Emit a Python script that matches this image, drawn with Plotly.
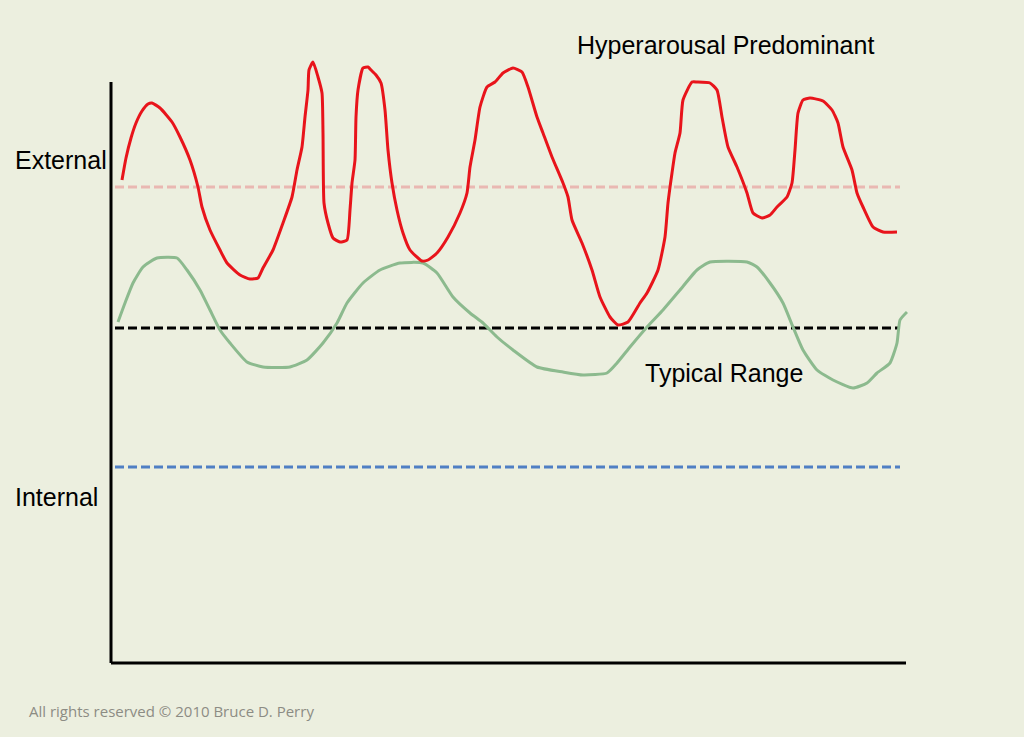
import plotly.graph_objects as go

# Time axis (arbitrary units) and arousal level readings
red_t = [11, 15, 20, 25, 31, 37, 41, 49, 61, 69, 79, 87, 91, 99, 109, 116, 129, 139, 147, 152,
         162, 172, 181, 186, 191, 194, 197, 198, 202, 207, 211, 212, 213, 217, 222, 229, 236, 239,
         241, 244, 245, 247, 252, 257, 260, 265, 270, 274, 277, 281, 286, 292, 299, 311, 317, 326,
         337, 349, 356, 359, 364, 369, 376, 384, 392, 402, 411, 417, 426, 432, 441, 452, 457, 461,
         471, 481, 489, 499, 507, 517, 529, 536, 547, 554, 557, 561, 564, 569, 572, 581, 586, 599,
         606, 611, 617, 626, 636, 642, 651, 659, 666, 676, 681, 684, 687, 692, 699, 712, 721, 727,
         732, 741, 746, 752, 762, 772, 786]
red_v = [483, 505, 525, 540, 552, 559, 560, 555, 541, 526, 503, 476, 456, 433, 413, 400, 388, 384,
         385, 395, 413, 440, 466, 493, 516, 546, 573, 593, 601, 586, 570, 530, 460, 440, 425, 421,
         423, 453, 480, 503, 546, 573, 595, 596, 593, 588, 580, 553, 513, 480, 453, 430, 413, 402,
         403, 410, 426, 450, 470, 496, 523, 556, 576, 581, 590, 595, 591, 576, 546, 530, 506, 480,
         466, 443, 420, 393, 366, 346, 338, 341, 360, 370, 393, 426, 460, 490, 510, 530, 563, 581,
         581, 580, 573, 546, 516, 496, 470, 450, 445, 448, 456, 466, 480, 513, 550, 563, 565, 562,
         553, 540, 516, 493, 470, 456, 436, 431, 431]

green_t = [7, 14, 22, 32, 46, 66, 76, 89, 99, 109, 119, 136, 152, 179, 196, 212, 226, 236, 252,
           269, 289, 312, 326, 342, 359, 372, 386, 402, 426, 452, 472, 496, 506, 519, 536, 552,
           569, 586, 599, 636, 646, 659, 672, 682, 692, 706, 722, 742, 756, 766, 779, 786, 789, 796]
green_v = [341, 360, 380, 396, 405, 405, 393, 373, 353, 333, 320, 301, 296, 296, 303, 320, 340,
           360, 380, 393, 400, 400, 390, 366, 350, 340, 326, 313, 296, 291, 288, 290, 300, 316,
           336, 353, 373, 393, 401, 401, 396, 380, 360, 336, 313, 293, 283, 275, 280, 290, 300,
           320, 343, 351]

ref_levels = [476, 335, 196]
ref_colors = ["#E9B8B2", "#000000", "#4F7FC4"]
ref_span = [4, 789]

# labels placed in paper fractions
labels = ["External", "Internal", "Hyperarousal Predominant", "Typical Range"]
label_x = [-0.123, -0.123, 0.582, 0.668]
label_y = [0.807, 0.2665, 0.992, 0.4655]

bg = "#ECEFDF"

fig = go.Figure()

for lvl, col in zip(ref_levels, ref_colors):
    fig.add_trace(go.Scatter(x=ref_span, y=[lvl, lvl], mode="lines",
                             line=dict(color=col, width=3, dash="9px,4px"),
                             hoverinfo="skip"))

fig.add_trace(go.Scatter(x=green_t, y=green_v, mode="lines",
                         line=dict(color="rgb(140,186,142)", width=3, shape="spline", smoothing=0.5)))
fig.add_trace(go.Scatter(x=red_t, y=red_v, mode="lines",
                         line=dict(color="#E8141B", width=3, shape="spline", smoothing=0.5)))

# axes drawn as lines (paper refs so they are not clipped)
fig.add_shape(type="line", x0=0, x1=0, y0=0, y1=0.9326, xref="paper", yref="paper",
              line=dict(color="black", width=3))
fig.add_shape(type="line", x0=0, x1=0.9975, y0=0, y1=0, xref="paper", yref="paper",
              line=dict(color="black", width=3))

for txt, tx, ty in zip(labels, label_x, label_y):
    fig.add_annotation(x=tx, y=ty, xref="paper", yref="paper", text=txt, showarrow=False,
                       xanchor="left", yanchor="middle",
                       font=dict(family="Liberation Sans, Arial", size=25, color="black"))

fig.add_annotation(x=-0.106, y=-0.077, xref="paper", yref="paper",
                   text="All rights reserved © 2010 Bruce D. Perry", showarrow=False,
                   xanchor="left", yanchor="middle",
                   font=dict(family="Open Sans", size=15, color="#8C8C84"))

fig.update_layout(
    width=1024, height=737,
    margin=dict(l=111, r=116, t=40, b=74),
    paper_bgcolor=bg, plot_bgcolor=bg,
    showlegend=False,
    xaxis=dict(range=[0, 797], visible=False, fixedrange=True),
    yaxis=dict(range=[0, 623], visible=False, fixedrange=True),
)

fig.write_html("out.html")
